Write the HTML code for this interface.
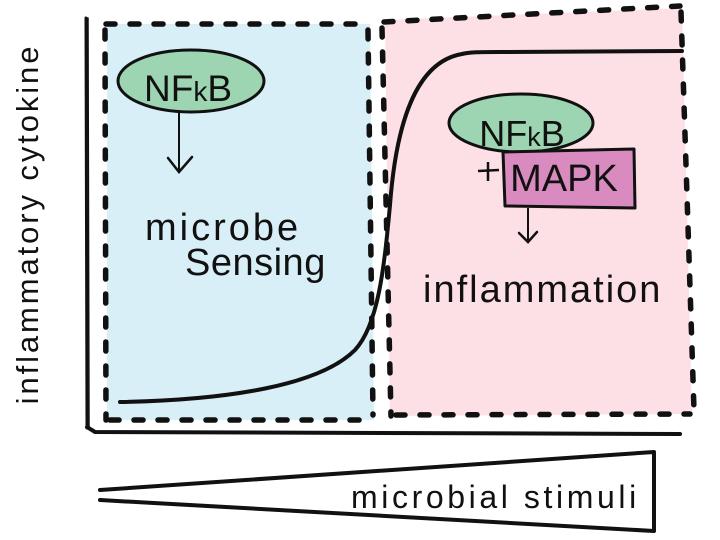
<!DOCTYPE html>
<html><head><meta charset="utf-8">
<style>
html,body{margin:0;padding:0;background:#fff;}
svg{display:block;}
text{font-family:"Liberation Sans",sans-serif;fill:#111;}
</style></head>
<body>
<svg width="720" height="540" viewBox="0 0 720 540" xmlns="http://www.w3.org/2000/svg">
<rect width="720" height="540" fill="#ffffff"/>
<!-- blue region -->
<polygon points="107,24 370,24 374,420 107,420" fill="#d8eff8"/>
<!-- pink region -->
<polygon points="385,20 682,8 692,414 390,416" fill="#fde0e6"/>

<!-- dashed boxes -->
<g fill="none" stroke="#111" stroke-width="5.5" stroke-linecap="round" stroke-dasharray="9 15">
<polyline points="106,24 368,24"/>
<polyline points="105,30 106,420"/>
<polyline points="110,420 370,420"/>
<polyline points="368,30 373,415"/>
<polyline points="384,22 680,6"/>
<polyline points="382,28 391,416"/>
<polyline points="396,415 690,414"/>
<polyline points="681,12 694,410"/>
</g>

<!-- axes -->
<g fill="none" stroke="#111" stroke-linecap="round">
<line x1="86" y1="18" x2="87" y2="428" stroke-width="3"/>
<line x1="88" y1="18" x2="89" y2="428" stroke-width="1.5"/>
<path d="M87,427 L95,432 L680,434" stroke-width="4"/>
</g>

<!-- sigmoid curve -->
<path d="M120,402 C230,400 320,385 355,350 C378,325 384,270 390,205 C396,125 415,62 462,54 C470,52 480,52 500,52 L682,51" fill="none" stroke="#111" stroke-width="4" stroke-linecap="round"/>

<!-- y axis label -->
<text x="0" y="0" font-size="31" letter-spacing="2.9" text-anchor="middle" transform="translate(38,224) rotate(-90)">inflammatory cytokine</text>

<!-- left NFkB -->
<ellipse cx="191" cy="81" rx="73" ry="31" fill="#9dd5b2" stroke="#111" stroke-width="3"/>
<text x="188" y="101" font-size="37" text-anchor="middle">NF<tspan font-size="28">k</tspan>B</text>
<line x1="179" y1="113" x2="179" y2="172" stroke="#111" stroke-width="2"/>
<polyline points="168,158 179,172 192,157" fill="none" stroke="#111" stroke-width="2.5" stroke-linecap="round"/>

<text x="145" y="240" font-size="38" letter-spacing="3">microbe</text>
<text x="185" y="275" font-size="38" letter-spacing="0.5">Sensing</text>

<!-- right NFkB + MAPK -->
<ellipse cx="521" cy="123" rx="72" ry="29" fill="#9dd5b2" stroke="#111" stroke-width="3"/>
<text x="522" y="146" font-size="36" text-anchor="middle">NF<tspan font-size="27">k</tspan>B</text>
<polygon points="503,152 634,149 635,208 505,206" fill="#d98bbf" stroke="#111" stroke-width="3" stroke-linejoin="round"/>
<text x="564" y="191" font-size="38" text-anchor="middle">MAPK</text>
<line x1="478" y1="171" x2="499" y2="170" stroke="#111" stroke-width="2.5"/>
<line x1="488" y1="162" x2="488" y2="181" stroke="#111" stroke-width="2.5"/>
<line x1="528" y1="208" x2="528" y2="242" stroke="#111" stroke-width="2"/>
<polyline points="519,233 528,242 537,232" fill="none" stroke="#111" stroke-width="2.5" stroke-linecap="round"/>

<text x="423" y="302" font-size="38" letter-spacing="2">inflammation</text>

<!-- stimulus wedge -->
<g fill="none" stroke="#111" stroke-width="4" stroke-linecap="round" stroke-linejoin="round">
<polyline points="100,490 654,452 654,531 100,500"/>
</g>
<text x="351" y="508" font-size="32" letter-spacing="3.6">microbial stimuli</text>
</svg>
</body></html>
